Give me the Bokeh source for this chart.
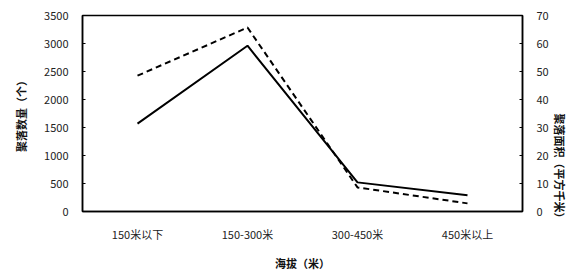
import math
from bokeh.plotting import figure
from bokeh.models import FactorRange, Range1d, LinearAxis, SingleIntervalTicker
from bokeh.embed import file_html
from bokeh.resources import INLINE

categories = ["150米以下", "150-300米", "300-450米", "450米以上"]
settlement_count = [1570, 2960, 520, 290]
settlement_area = [48.5, 65.7, 8.6, 2.9]

CJK = "Noto Sans CJK SC"

p = figure(width=578, height=273, x_range=FactorRange(factors=categories),
           y_range=Range1d(0, 3500), output_backend="svg", toolbar_location=None,
           min_border_left=82, min_border_right=55, min_border_top=15, min_border_bottom=62)
p.extra_y_ranges = {"area": Range1d(0, 70)}

p.line(categories, settlement_count, line_color="black", line_width=2)
p.line(categories, settlement_area, y_range_name="area", line_color="black",
       line_width=2, line_dash="6 4")

p.xgrid.visible = False
p.ygrid.visible = False
p.outline_line_color = "black"
p.outline_line_width = 1.5

p.yaxis.ticker = SingleIntervalTicker(interval=500)
p.yaxis.axis_label = "聚落数量（个）"
p.xaxis.axis_label = "海拔（米）"

right = LinearAxis(y_range_name="area", ticker=SingleIntervalTicker(interval=10),
                   axis_label="聚落面积（平方千米）")
p.add_layout(right, "right")
if "axis_label_orientation" in right.properties():
    right.axis_label_orientation = -math.pi / 2

for ax in [p.xaxis[0], p.yaxis[0], right]:
    ax.axis_line_color = "black"
    ax.axis_line_width = 1.5
    ax.major_tick_line_color = "black"
    ax.minor_tick_line_color = None
    ax.major_tick_in = 3
    ax.major_tick_out = 0
    ax.major_label_text_font = CJK
    ax.major_label_text_font_size = "11px"
    ax.major_label_text_color = "#222222"
    ax.axis_label_text_font = CJK
    ax.axis_label_text_font_size = "11px"
    ax.axis_label_text_font_style = "bold"
    ax.axis_label_text_color = "#111111"
p.xaxis.major_tick_line_color = None
p.xaxis.major_label_standoff = 14
p.xaxis.axis_label_standoff = 10
p.yaxis[0].major_label_standoff = 10
p.yaxis[0].axis_label_standoff = 12
right.major_label_standoff = 10
right.axis_label_standoff = 8

open("out.html", "w").write(file_html(p, INLINE))
